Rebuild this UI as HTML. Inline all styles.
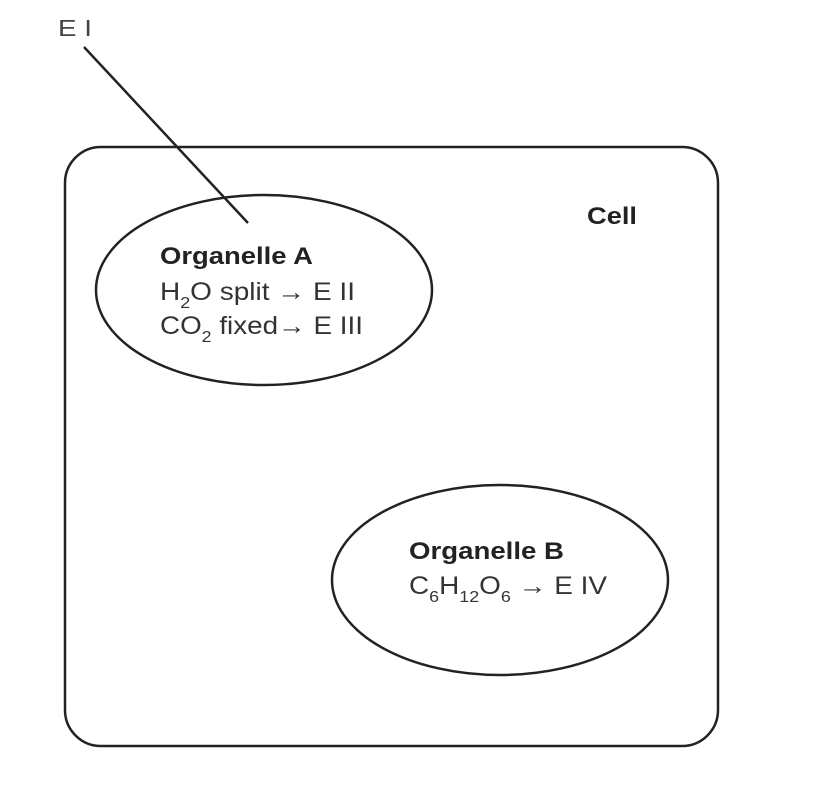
<!DOCTYPE html>
<html><head><meta charset="utf-8"><style>
html,body{margin:0;padding:0;background:#fff;}
svg{display:block;}
text{font-family:"Liberation Sans",Arial,sans-serif;}
</style></head><body>
<svg width="834" height="796" viewBox="0 0 834 796" xmlns="http://www.w3.org/2000/svg">
<rect x="65" y="147" width="653" height="599" rx="36" ry="36" fill="none" stroke="#222" stroke-width="2.5"/>
<ellipse cx="264" cy="290" rx="168" ry="95" fill="none" stroke="#222" stroke-width="2.5"/>
<ellipse cx="500" cy="580" rx="168" ry="95" fill="none" stroke="#222" stroke-width="2.5"/>
<line x1="84" y1="47" x2="248" y2="223" stroke="#222" stroke-width="2.5"/>
<text x="58" y="36" font-size="23" fill="#444" textLength="34" lengthAdjust="spacingAndGlyphs">E I</text>
<text x="587" y="224" font-size="24" font-weight="bold" fill="#222" textLength="50" lengthAdjust="spacingAndGlyphs">Cell</text>
<text x="160" y="264" font-size="24" font-weight="bold" fill="#222" textLength="153" lengthAdjust="spacingAndGlyphs">Organelle A</text>
<text x="160" y="300" font-size="25" fill="#333" textLength="195" lengthAdjust="spacingAndGlyphs">H<tspan font-size="16" dy="8">2</tspan><tspan dy="-8">O split → E II</tspan></text>
<text x="160" y="334" font-size="25" fill="#333" textLength="203" lengthAdjust="spacingAndGlyphs">CO<tspan font-size="16" dy="8">2</tspan><tspan dy="-8"> fixed→ E III</tspan></text>
<text x="409" y="559" font-size="24" font-weight="bold" fill="#222" textLength="155" lengthAdjust="spacingAndGlyphs">Organelle B</text>
<text x="409" y="594" font-size="25" fill="#333" textLength="198" lengthAdjust="spacingAndGlyphs">C<tspan font-size="16" dy="8">6</tspan><tspan dy="-8">H</tspan><tspan font-size="16" dy="8">12</tspan><tspan dy="-8">O</tspan><tspan font-size="16" dy="8">6</tspan><tspan dy="-8">  → E IV</tspan></text>
</svg>
</body></html>
